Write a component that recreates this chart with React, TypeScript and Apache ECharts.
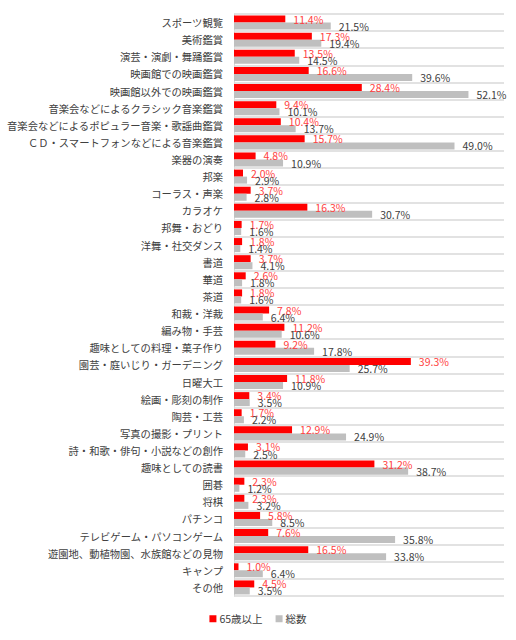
import { useEffect, useRef } from 'react';
import * as echarts from 'echarts';

const categories = [
  'スポーツ観覧',
  '美術鑑賞',
  '演芸・演劇・舞踊鑑賞',
  '映画館での映画鑑賞',
  '映画館以外での映画鑑賞',
  '音楽会などによるクラシック音楽鑑賞',
  '音楽会などによるポピュラー音楽・歌謡曲鑑賞',
  'ＣＤ・スマートフォンなどによる音楽鑑賞',
  '楽器の演奏',
  '邦楽',
  'コーラス・声楽',
  'カラオケ',
  '邦舞・おどり',
  '洋舞・社交ダンス',
  '書道',
  '華道',
  '茶道',
  '和裁・洋裁',
  '編み物・手芸',
  '趣味としての料理・菓子作り',
  '園芸・庭いじり・ガーデニング',
  '日曜大工',
  '絵画・彫刻の制作',
  '陶芸・工芸',
  '写真の撮影・プリント',
  '詩・和歌・俳句・小説などの創作',
  '趣味としての読書',
  '囲碁',
  '将棋',
  'パチンコ',
  'テレビゲーム・パソコンゲーム',
  '遊園地、動植物園、水族館などの見物',
  'キャンプ',
  'その他',
];

const elderly = [
  11.4, 17.3, 13.5, 16.6, 28.4, 9.4, 10.4, 15.7, 4.8, 2.0, 3.7, 16.3, 1.7, 1.8, 3.7, 2.6, 1.8,
  7.8, 11.2, 9.2, 39.3, 11.8, 3.4, 1.7, 12.9, 3.1, 31.2, 2.3, 2.3, 5.8, 7.6, 16.5, 1.0, 4.5,
];

const total = [
  21.5, 19.4, 14.5, 39.6, 52.1, 10.1, 13.7, 49.0, 10.9, 2.9, 2.8, 30.7, 1.6, 1.4, 4.1, 1.8, 1.6,
  6.4, 10.6, 17.8, 25.7, 10.9, 3.5, 2.2, 24.9, 2.5, 38.7, 1.2, 3.2, 8.5, 35.8, 33.8, 6.4, 3.5,
];

const seriesNames = ['65歳以上', '総数'];

const FONT = '"Noto Sans CJK JP", "Noto Sans", sans-serif';

export default function App() {
  const ref = useRef<HTMLDivElement>(null);

  useEffect(() => {
    if (!ref.current) return;
    const chart = echarts.init(ref.current, null, { renderer: 'svg' });

    const pct = (p: any) => `${Number(p.value).toFixed(1)}%`;

    chart.setOption({
      animation: false,
      textStyle: { fontFamily: FONT },
      grid: { left: 234, right: 12, top: 14, bottom: 44, containLabel: false },
      legend: {
        bottom: 11,
        left: 'center',
        icon: 'rect',
        itemWidth: 7,
        itemHeight: 7,
        itemGap: 13,
        textStyle: { fontFamily: FONT, fontSize: 10.5, color: '#404040', padding: [0, 0, 0, -2] },
        data: seriesNames,
      },
      xAxis: {
        type: 'value',
        min: 0,
        max: 60,
        show: false,
      },
      yAxis: {
        type: 'category',
        inverse: true,
        data: categories,
        axisTick: { show: false },
        axisLine: { show: true, lineStyle: { color: '#d9d9d9', width: 1 } },
        splitLine: { show: true, lineStyle: { color: '#d9d9d9', width: 1.5 } },
        axisLabel: {
          color: '#404040',
          fontFamily: FONT,
          fontSize: 10.3,
          margin: 11,
          interval: 0,
        },
      },
      series: [
        {
          name: seriesNames[0],
          type: 'bar',
          data: elderly,
          barGap: '0%',
          barCategoryGap: '18%',
          itemStyle: { color: '#ff0000' },
          label: {
            show: true,
            position: 'right',
            distance: 8,
            formatter: pct,
            color: '#ff4040',
            fontFamily: FONT,
            fontSize: 10.5,
          },
        },
        {
          name: seriesNames[1],
          type: 'bar',
          data: total,
          barGap: '0%',
          barCategoryGap: '18%',
          itemStyle: { color: '#bfbfbf' },
          label: {
            show: true,
            position: 'right',
            distance: 8,
            formatter: pct,
            color: '#404040',
            fontFamily: FONT,
            fontSize: 10.5,
          },
        },
      ],
    });

    return () => chart.dispose();
  }, []);

  return (
    <div
      ref={ref}
      style={{ position: 'fixed', left: 0, top: 0, width: 516, height: 640, background: '#fff' }}
    />
  );
}
